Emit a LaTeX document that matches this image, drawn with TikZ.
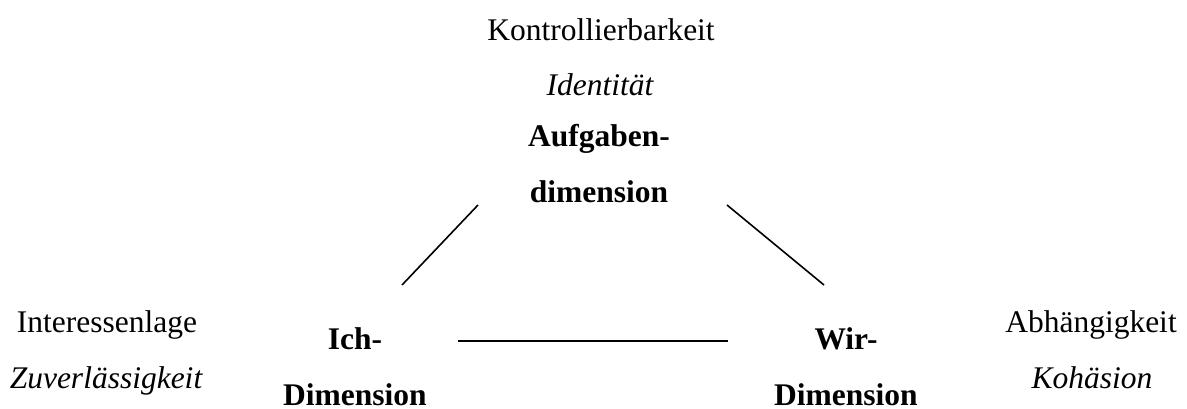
\documentclass[tikz,border=0pt]{standalone}
\usepackage{fontspec}
\setmainfont{Liberation Serif}
\usetikzlibrary{positioning}

\begin{document}
\begin{tikzpicture}[
      x=1pt, y=-1pt,
      every node/.style={inner sep=0pt, font=\fontsize{31.5}{56}\selectfont},
      prop/.style={anchor=base},
      value/.style={anchor=base, font=\fontsize{31.5}{56}\selectfont\itshape},
      dim/.style={anchor=base, align=center, font=\fontsize{31.5}{56}\selectfont\bfseries},
      link/.style={line width=1.6pt}
    ]
    \useasboundingbox (0,0) rectangle (1187,408);

    % top: Aufgabendimension
    \node[prop] (kontr) at (601,40) {Kontrollierbarkeit};
    \node[value] (ident) at (600,95) {Identität};
    \node[dim] (aufg) at (599,202) {Aufgaben-\\dimension};

    % left: Ich-Dimension
    \node[prop] (inter) at (107,332) {Interessenlage};
    \node[value] (zuver) at (106,388) {Zuverlässigkeit};
    \node[dim] (ich) at (355,405) {Ich-\\Dimension};

    % right: Wir-Dimension
    \node[prop] (abh) at (1091,332) {Abhängigkeit};
    \node[value] (koh) at (1092,388) {Kohäsion};
    \node[dim] (wir) at (846,405) {Wir-\\Dimension};

    % triangle
    \coordinate (aufg-l) at (478,205);
    \coordinate (aufg-r) at (727,205);
    \coordinate (ich-t) at (402,285);
    \coordinate (ich-r) at (458,341);
    \coordinate (wir-t) at (824,285);
    \coordinate (wir-l) at (728,341);

    \draw[link] (aufg-l) -- (ich-t);
    \draw[link] (aufg-r) -- (wir-t);
    \draw[link] (ich-r) -- (wir-l);
  \end{tikzpicture}
\end{document}
